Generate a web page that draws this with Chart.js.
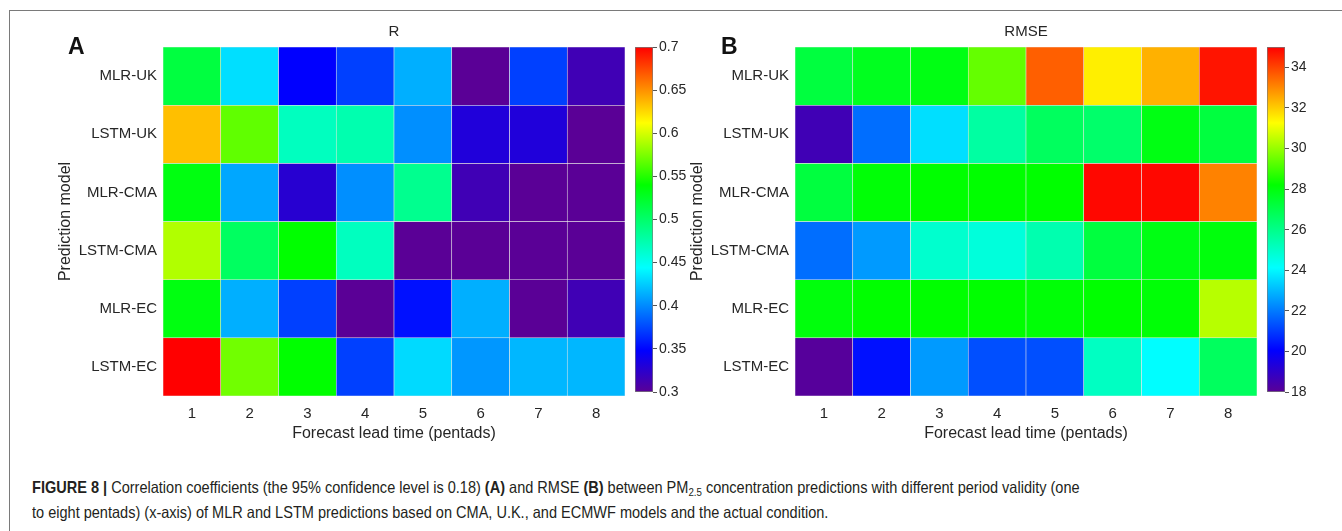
<!DOCTYPE html>
<html>
<head>
<meta charset="utf-8">
<script src="https://cdn.jsdelivr.net/npm/chart.js@4.4.0/dist/chart.umd.min.js"></script>
<style>
  html, body { margin: 0; padding: 0; background: #fff; }
  #page { position: relative; width: 1342px; height: 531px; overflow: hidden; font-family: 'Liberation Sans', Arial, sans-serif; }
  canvas { position: absolute; top: 0; }
  .frame-top { position: absolute; left: 9px; top: 10px; right: 0; border-top: 1px solid #7a7a7a; }
  .frame-left { position: absolute; left: 9px; top: 10px; bottom: 0; border-left: 1px solid #7a7a7a; }
  .panel { position: absolute; font-weight: bold; font-size: 23px; line-height: 23px; color: #111; }
  .cap { position: absolute; left: 32px; white-space: nowrap; font-size: 16.5px; line-height: 25px; color: #231f20; transform-origin: 0 50%; }
  .cap sub { font-size: 11px; line-height: 0; vertical-align: -3px; }
</style>
</head>
<body>
<div id="page">
  <div class="frame-top"></div>
  <div class="frame-left"></div>
  <canvas id="heatR" width="630" height="450" style="left:0px"></canvas>
  <canvas id="barR" width="60" height="450" style="left:630px"></canvas>
  <canvas id="heatE" width="592" height="450" style="left:670px"></canvas>
  <canvas id="barE" width="60" height="450" style="left:1262px"></canvas>
  <div class="panel" style="left:68px; top:35px">A</div>
  <div class="panel" style="left:721px; top:35px">B</div>
  <div class="cap" id="cap1" style="top:475px"><b>FIGURE 8 |</b> Correlation coefficients (the 95% confidence level is 0.18) <b>(A)</b> and RMSE <b>(B)</b> between PM<sub>2.5</sub> concentration predictions with different period validity (one</div>
  <div class="cap" id="cap2" style="top:500px">to eight pentads) (x-axis) of MLR and LSTM predictions based on CMA, U.K., and ECMWF models and the actual condition.</div>
</div>
<script>
// rows top to bottom, columns = forecast lead time 1..8
const models = ['MLR-UK', 'LSTM-UK', 'MLR-CMA', 'LSTM-CMA', 'MLR-EC', 'LSTM-EC'];
const leadTimes = ['1', '2', '3', '4', '5', '6', '7', '8'];

const rMLR_UK   = [0.516, 0.432, 0.348, 0.372, 0.414, 0.300, 0.372, 0.314];
const rLSTM_UK  = [0.634, 0.567, 0.468, 0.474, 0.402, 0.331, 0.331, 0.300];
const rMLR_CMA  = [0.534, 0.411, 0.327, 0.402, 0.486, 0.314, 0.300, 0.300];
const rLSTM_CMA = [0.590, 0.504, 0.540, 0.468, 0.300, 0.300, 0.300, 0.300];
const rMLR_EC   = [0.534, 0.414, 0.372, 0.300, 0.354, 0.414, 0.300, 0.314];
const rLSTM_EC  = [0.700, 0.572, 0.540, 0.372, 0.430, 0.405, 0.417, 0.417];

const eMLR_UK   = [27.2, 27.7, 27.9, 29.4, 33.6, 31.5, 32.4, 34.7];
const eLSTM_UK  = [18.6, 21.8, 23.6, 25.6, 26.7, 26.5, 27.9, 27.2];
const eMLR_CMA  = [27.2, 28.1, 28.2, 28.2, 28.2, 34.9, 34.9, 33.1];
const eLSTM_CMA = [21.8, 22.5, 24.9, 24.7, 25.4, 27.2, 27.9, 28.0];
const eMLR_EC   = [28.0, 28.2, 28.2, 28.2, 28.1, 28.2, 28.1, 30.4];
const eLSTM_EC  = [18.1, 20.3, 22.5, 21.3, 21.3, 25.1, 24.1, 26.7];

const rTicks = [0.3, 0.35, 0.4, 0.45, 0.5, 0.55, 0.6, 0.65, 0.7];
const rmseTicks = [18, 20, 22, 24, 26, 28, 30, 32, 34];
const R_MIN = 0.3, R_MAX = 0.7;
const E_MIN = 18, E_MAX = 35;

const rValues = [rMLR_UK, rLSTM_UK, rMLR_CMA, rLSTM_CMA, rMLR_EC, rLSTM_EC];
const rmseValues = [eMLR_UK, eLSTM_UK, eMLR_CMA, eLSTM_CMA, eMLR_EC, eLSTM_EC];

// purple -> blue -> cyan -> green -> yellow -> red
const STOPS = [
  [0.00, [90, 0, 150]],
  [0.12, [0, 0, 255]],
  [0.36, [0, 255, 255]],
  [0.60, [0, 255, 0]],
  [0.78, [255, 255, 0]],
  [1.00, [255, 0, 0]]
];

function colorFor(v, lo, hi) {
  const t = Math.max(0, Math.min(1, (v - lo) / (hi - lo)));
  for (let k = 1; k < STOPS.length; k++) {
    const [t1, c1] = STOPS[k];
    const [t0, c0] = STOPS[k - 1];
    if (t <= t1) {
      const f = (t - t0) / (t1 - t0);
      const c = c0.map((a, j) => Math.round(a + (c1[j] - a) * f));
      return `rgb(${c[0]},${c[1]},${c[2]})`;
    }
  }
  return 'rgb(255,0,0)';
}

Chart.defaults.font.family = "'Liberation Sans', Arial, sans-serif";
Chart.defaults.color = '#262626';
Chart.defaults.animation = false;

const tickFont = { size: 15 };
const titleFont = { size: 16 };

function heatmap(id, values, lo, hi, title, padLeft) {
  return new Chart(document.getElementById(id), {
    type: 'bar',
    data: {
      labels: leadTimes,
      datasets: models.map((m, i) => ({
        label: m,
        data: leadTimes.map(() => [i, i + 1]),
        backgroundColor: values[i].map(v => colorFor(v, lo, hi)),
        borderColor: 'rgba(230,230,230,0.9)',
        borderWidth: 0.6,
        borderSkipped: false,
        grouped: false,
        barPercentage: 1,
        categoryPercentage: 1
      }))
    },
    options: {
      responsive: false,
      devicePixelRatio: 1,
      layout: { padding: { left: padLeft, right: 5, top: 23, bottom: 7 } },
      plugins: {
        legend: { display: false },
        tooltip: { enabled: false },
        title: {
          display: true, text: title, fullSize: false,
          font: { size: 15, weight: 'normal' }, color: '#262626',
          padding: { top: 0, bottom: 6 }
        }
      },
      scales: {
        x: {
          grid: { display: false, drawTicks: false },
          border: { display: false },
          ticks: { font: tickFont, padding: 9 },
          title: { display: true, text: 'Forecast lead time (pentads)', font: titleFont, padding: { top: 0, bottom: 0 } },
          afterFit: s => { s.height = 47; }
        },
        y: {
          type: 'linear', min: 0, max: models.length, reverse: true,
          grid: { display: false, drawTicks: false },
          border: { display: false },
          afterBuildTicks: axis => { axis.ticks = models.map((_, i) => ({ value: i + 0.5 })); },
          ticks: { font: tickFont, padding: 6, callback: v => models[Math.floor(v)] },
          title: { display: true, text: 'Prediction model', font: titleFont, padding: { top: 0, bottom: 0 } },
          afterFit: s => { s.width = 107; }
        }
      }
    }
  });
}

function colorbar(id, lo, hi, tickVals) {
  return new Chart(document.getElementById(id), {
    type: 'bar',
    data: {
      labels: [''],
      datasets: [{
        data: [[lo, hi]],
        backgroundColor: ctx => {
          const area = ctx.chart.chartArea;
          if (!area) return null;
          const g = ctx.chart.ctx.createLinearGradient(0, area.bottom, 0, area.top);
          STOPS.forEach(([t, c]) => g.addColorStop(t, `rgb(${c[0]},${c[1]},${c[2]})`));
          return g;
        },
        borderColor: '#7a7a7a',
        borderWidth: 1,
        borderSkipped: false,
        barPercentage: 1,
        categoryPercentage: 1
      }]
    },
    options: {
      responsive: false,
      devicePixelRatio: 1,
      layout: { padding: { left: 5, right: 0, top: 47, bottom: 58 } },
      plugins: { legend: { display: false }, tooltip: { enabled: false } },
      scales: {
        x: { display: false },
        y: {
          position: 'right', min: lo, max: hi,
          grid: { display: true, drawOnChartArea: false, drawTicks: true, tickLength: 4, color: '#555' },
          border: { display: false },
          afterBuildTicks: axis => { axis.ticks = tickVals.map(v => ({ value: v })); },
          ticks: { font: { size: 14 }, padding: 2, callback: v => String(+v.toFixed(2)) },
          afterFit: s => { s.width = 37; }
        }
      }
    }
  });
}

heatmap('heatR', rValues, R_MIN, R_MAX, 'R', 56);
colorbar('barR', R_MIN, R_MAX, rTicks);
heatmap('heatE', rmseValues, E_MIN, E_MAX, 'RMSE', 18);
colorbar('barE', E_MIN, E_MAX, rmseTicks);

// fit the caption to the condensed width of the original
const c1 = document.getElementById('cap1');
const c2 = document.getElementById('cap2');
const sx = 1048 / c1.scrollWidth;
c1.style.transform = `scaleX(${sx})`;
c2.style.transform = `scaleX(${sx})`;
</script>
</body>
</html>
